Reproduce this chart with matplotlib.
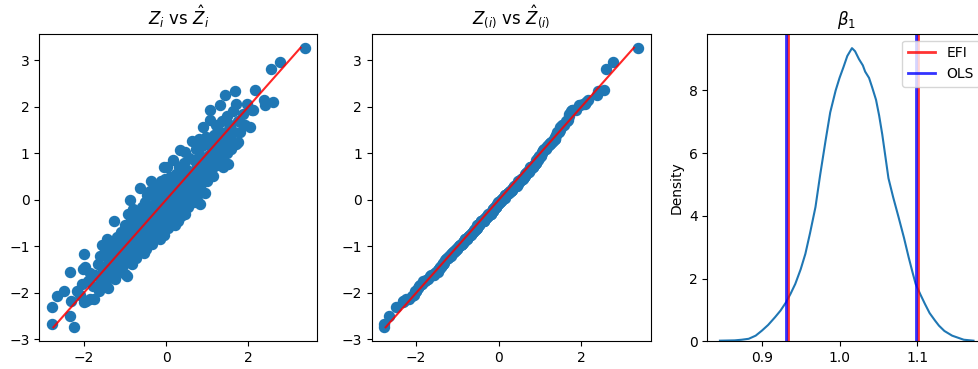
import numpy as np
import matplotlib
matplotlib.use("Agg")
import matplotlib.pyplot as plt

z = [-2.77, -2.77, -2.65,
     -2.49, -2.33, -2.33, -2.25, -2.30, -2.17, -2.10, -2.05, -2.00, -2.02, -2.00,
     -1.96, -1.94, -1.84, -1.76, -1.90, -1.85, -1.78, -1.72, -1.66, -1.63, -1.58, -1.56, -1.54, -1.52, -1.60,
     -1.48, -1.47, -1.45, -1.44, -1.42, -1.40, -1.38, -1.36, -1.34, -1.32, -1.30, -1.27, -1.26, -1.24, -1.22,
     -1.20, -1.18, -1.16, -1.14, -1.12, -1.10, -1.08, -1.06, -1.04, -1.02, -1.00,
     -0.99, -0.97, -0.95, -0.94, -0.92, -0.88, -0.90, -0.88, -0.86, -0.85, -0.83, -0.82, -0.80, -0.78, -0.77,
     -0.75, -0.73, -0.72, -0.70, -0.68, -0.67, -0.65, -0.63, -0.63, -0.61, -0.60, -0.58, -0.57, -0.55, -0.54,
     -0.53, -0.52, -0.51, -0.50,
     -0.49, -0.48, -0.47, -0.46, -0.44, -0.43, -0.42, -0.40, -0.39, -0.37, -0.36, -0.35, -0.33, -0.32, -0.30,
     -0.29, -0.28, -0.26, -0.25, -0.24, -0.22, -0.21, -0.20, -0.18, -0.17, -0.15, -0.14, -0.13, -0.12, -0.10,
     -0.09, -0.08, -0.06, -0.06, -0.05, -0.04, -0.03, -0.02, -0.01,
     0.01, 0.02, 0.03, 0.04, 0.05, 0.07, 0.08, 0.10, 0.11, 0.12, 0.14, 0.15, 0.16, 0.18, 0.19, 0.20, 0.22,
     0.23, 0.25, 0.26, 0.28, 0.29, 0.30, 0.32, 0.33, 0.34, 0.35, 0.37, 0.38, 0.40, 0.41, 0.43, 0.44, 0.46,
     0.46, 0.48, 0.49,
     0.51, 0.52, 0.54, 0.55, 0.57, 0.58, 0.60, 0.62, 0.63, 0.64, 0.66, 0.67, 0.68, 0.70, 0.72, 0.73, 0.75,
     0.76, 0.78, 0.79, 0.80, 0.82, 0.83, 0.84, 0.86, 0.88, 0.89, 0.90, 0.90, 0.92, 0.94, 0.95, 0.97, 0.98, 0.99,
     1.01, 1.03, 1.05, 1.07, 1.07, 1.09, 1.12, 1.14, 1.15, 1.17, 1.19, 1.21, 1.23, 1.25, 1.27, 1.29, 1.31,
     1.33, 1.35, 1.37, 1.39, 1.41, 1.44, 1.45, 1.47, 1.49,
     1.51, 1.53, 1.56, 1.59, 1.62, 1.65, 1.67, 1.70, 1.71, 1.74, 1.76, 1.80, 1.88, 1.93, 1.97,
     2.04, 2.08, 2.12, 2.16, 2.38, 2.40,
     2.54, 2.59, 2.76, 3.37,
     -1.35, -1.05, -0.75, -0.45, -0.15, 0.15, 0.45, 0.75, 1.05, 1.35,
     -1.15, -0.85, -0.55, -0.25, 0.05, 0.35, 0.65, 0.95, 1.25]

z_hat = [-2.30, -2.67, -2.06,
         -1.96, -1.56, -2.49, -2.74, -2.17, -1.96, -2.05, -1.80, -2.20, -1.49, -1.17,
         -1.45, -2.17, -2.13, -2.14, -1.75, -1.58, -1.85, -1.62, -1.38, -1.95, -1.72, -0.98, -1.48, -1.83, -1.20,
         -1.10, -1.62, -1.74, -0.84, -1.35, -1.90, -1.20, -1.50, -0.98, -1.62, -1.28, -0.45, -1.05, -1.70, -1.40,
         -0.80, -1.15, -1.55, -0.95, -1.30, -0.70, -1.45, -1.10, -0.85, -1.25, -1.60,
         -0.55, -1.20, -1.63, -0.85, -0.30, 0.00, -1.05, -0.65, -1.35, -0.40, -1.38, -0.90, -0.20, -1.10, -0.75,
         -0.50, -1.25, -0.95, -0.30, -0.62, -1.13, -0.85, 0.25, -0.45, -1.00, -0.70, -0.15, -0.55, -0.90, -0.35,
         -1.15, -0.60, -0.05, -0.80,
         -0.45, -1.05, 0.10, -0.65, -0.25, -0.88, -0.50, 0.20, -0.72, 0.40, -0.35, -0.95, -0.15, -0.55, 0.15,
         -0.78, -0.30, -0.05, -0.62, 0.30, -0.74, -0.40, -0.10, -0.55, 0.12, -0.25, -0.85, 0.40, -0.45, -0.05,
         -0.62, 0.22, 0.71, -0.30, -0.75, 0.05, 0.45, -0.45, -0.15,
         0.30, -0.35, 0.70, 0.05, -0.60, 0.25, -0.15, 0.50, -0.40, 0.10, -0.51, 0.35, -0.05, 0.85, -0.30, 0.20, -0.55,
         0.55, 0.00, -0.25, 0.40, -0.45, 0.15, 0.70, -0.10, 1.07, 0.30, -0.35, 0.55, 0.05, -0.20, 0.80, 0.25, 1.02,
         -0.30, 0.45, 0.00,
         0.65, 0.20, -0.15, 0.90, 0.35, 0.05, 0.60, 1.27, 0.10, 0.45, 0.21, 0.85, -0.05, 0.55, 1.10, 0.30, 0.75,
         0.00, 0.50, 1.30, 0.20, 0.95, -0.09, 0.60, 0.35, 1.15, 0.70, 1.56, 1.21, 0.45, 0.90, 0.15, 0.65, 1.35, 0.40,
         0.95, 0.60, 1.25, 1.92, 1.72, 0.80, 1.10, 0.70, 0.52, 1.40, 0.95, 1.60, 1.20, 0.75, 1.50, 1.05, 2.04,
         1.30, 0.90, 1.70, 0.71, 1.15, 2.26, 1.45, 1.00, 1.80,
         0.78, 1.30, 1.60, 1.10, 1.90, 1.45, 2.34, 1.20, 2.07, 1.70, 1.25, 1.45, 1.85, 1.60, 2.05,
         1.57, 1.92, 1.93, 2.36, 2.15, 2.03,
         2.82, 2.11, 2.96, 3.27,
         -1.25, -0.98, -0.68, -0.42, -0.12, 0.12, 0.40, 0.68, 0.96, 1.22,
         -1.02, -0.78, -0.48, -0.20, 0.08, 0.30, 0.58, 0.86, 1.12]

# posterior density of beta_1
beta_grid = [0.846, 0.865, 0.874, 0.883, 0.892, 0.900, 0.908, 0.917, 0.924, 0.931, 0.937,
             0.943, 0.950, 0.956, 0.962, 0.969, 0.975, 0.982, 0.988, 0.995, 1.000,
             1.005, 1.010, 1.016, 1.020, 1.025, 1.030, 1.033, 1.038, 1.042, 1.047,
             1.051, 1.055, 1.059, 1.063, 1.069, 1.076, 1.083, 1.089, 1.094, 1.098,
             1.104, 1.110, 1.116, 1.123, 1.128, 1.135, 1.145, 1.160, 1.1725]
beta_density = [0.02, 0.03, 0.05, 0.08, 0.18, 0.34, 0.52, 0.77, 0.98, 1.24, 1.52,
                1.83, 2.30, 2.79, 3.45, 4.28, 5.30, 6.40, 7.30, 8.00, 8.40,
                8.74, 9.10, 9.35, 9.25, 9.00, 8.80, 8.60, 8.40, 8.10, 7.70,
                7.20, 6.60, 5.90, 5.20, 4.60, 3.96, 3.30, 2.68, 2.20, 1.83,
                1.50, 1.19, 0.90, 0.66, 0.50, 0.33, 0.18, 0.05, 0.02]

# 95% interval bounds
efi_bounds = [0.9335, 1.1013]
ols_bounds = [0.931, 1.098]

W, H = 979, 369
DPI = 100
fig = plt.figure(figsize=(W / DPI, H / DPI), dpi=DPI)


def box(left, right, top=33.7, bottom=341.3):
    return [left / W, (H - bottom) / H, (right - left) / W, (bottom - top) / H]


ax1 = fig.add_axes(box(39.5, 317.3))
ax2 = fig.add_axes(box(371.7, 650.7))
ax3 = fig.add_axes(box(707.3, 986.3))

lo, hi = np.min(z_hat), np.max(z_hat)

# raw pairs
ax1.scatter(z, z_hat, s=52, color="C0")
ax1.plot([lo, hi], [lo, hi], color="red", alpha=0.85)
ax1.set_title(r"$Z_i$ vs $\hat{Z}_i$")

# sorted pairs
ax2.scatter(np.sort(z), np.sort(z_hat), s=52, color="C0")
ax2.plot([lo, hi], [lo, hi], color="red", alpha=0.85)
ax2.set_title(r"$Z_{(i)}$ vs $\hat{Z}_{(i)}$")

for ax in (ax1, ax2):
    ax.set_xticks([-2, 0, 2])
    ax.set_yticks([-3, -2, -1, 0, 1, 2, 3])

# beta_1 density
ax3.plot(beta_grid, beta_density, color="C0")
for i, b in enumerate(efi_bounds):
    ax3.axvline(b, color="red", alpha=0.8, lw=2, label="EFI" if i == 0 else None)
for i, b in enumerate(ols_bounds):
    ax3.axvline(b, color="blue", alpha=0.8, lw=2, label="OLS" if i == 0 else None)
ax3.set_ylim(0, 9.81)
ax3.set_xlim(0.8297, 1.189)
ax3.set_xticks([0.9, 1.0, 1.1])
ax3.set_yticks([0, 2, 4, 6, 8])
ax3.set_ylabel("Density")
ax3.set_title(r"$\beta_1$")
ax3.legend(loc="upper right")

fig.savefig("out.png", dpi=DPI)
